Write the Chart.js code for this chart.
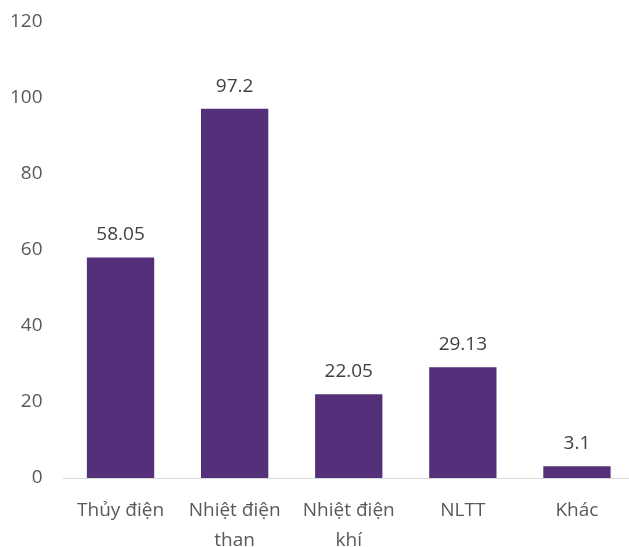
<!DOCTYPE html>
<html>
<head>
<meta charset="utf-8">
<script src="https://cdn.jsdelivr.net/npm/chart.js@4"></script>
<style>
  html, body { margin: 0; padding: 0; background: #fff; overflow: hidden; }
  /* plot area runs slightly past the right edge, as in the original */
  #wrap { width: 634px; height: 547px; position: relative; }
</style>
</head>
<body>
<div id="wrap"><canvas id="powerChart"></canvas></div>
<script>
// data
const categories = [['Thủy điện'], ['Nhiệt điện', 'than'], ['Nhiệt điện', 'khí'], ['NLTT'], ['Khác']];
const values = [58.05, 97.2, 22.05, 29.13, 3.1];
const valueLabels = ['58.05', '97.2', '22.05', '29.13', '3.1'];
const yTicks = [0, 20, 40, 60, 80, 100, 120];

const FONT = '"Open Sans", "Noto Sans", sans-serif';

// draw value labels above each bar
const barLabels = {
    id: 'barLabels',
    afterDatasetsDraw(chart) {
        const ctx = chart.ctx;
        const meta = chart.getDatasetMeta(0);
        ctx.save();
        ctx.font = '19px ' + FONT;
        ctx.fillStyle = '#404040';
        ctx.textAlign = 'center';
        ctx.textBaseline = 'bottom';
        meta.data.forEach((bar, i) => {
            ctx.fillText(valueLabels[i], bar.x, bar.y - 13);
        });
        ctx.restore();
    }
};

const ctx = document.getElementById('powerChart').getContext('2d');
new Chart(ctx, {
    type: 'bar',
    data: {
        labels: categories,
        datasets: [{
            data: values,
            backgroundColor: '#55307a',
            categoryPercentage: 0.59,
            barPercentage: 1
        }]
    },
    options: {
        responsive: true,
        maintainAspectRatio: false,
        animation: false,
        layout: { padding: { top: 22, right: 0, bottom: 0, left: 0 } },
        plugins: {
            legend: { display: false },
            tooltip: { enabled: false }
        },
        scales: {
            x: {
                grid: { display: false, drawTicks: false },
                border: { display: true, color: '#d9d9d9', width: 1 },
                ticks: {
                    color: '#595959',
                    font: { family: FONT, size: 19, lineHeight: 1.6 },
                    padding: 17,
                    maxRotation: 0
                },
                afterFit(scale) { scale.height = 69; }
            },
            y: {
                min: 0,
                max: 120,
                afterBuildTicks(scale) { scale.ticks = yTicks.map(v => ({ value: v })); },
                grid: { display: false, drawTicks: false },
                border: { display: false },
                ticks: {
                    color: '#595959',
                    font: { family: FONT, size: 19 },
                    padding: 21
                },
                afterFit(scale) {
                    scale.width = 63.5;
                    // keep the tick padding from pushing the plot top down
                    scale.paddingTop = 12;
                    scale.paddingBottom = 12;
                }
            }
        }
    },
    plugins: [barLabels]
});
</script>
</body>
</html>
